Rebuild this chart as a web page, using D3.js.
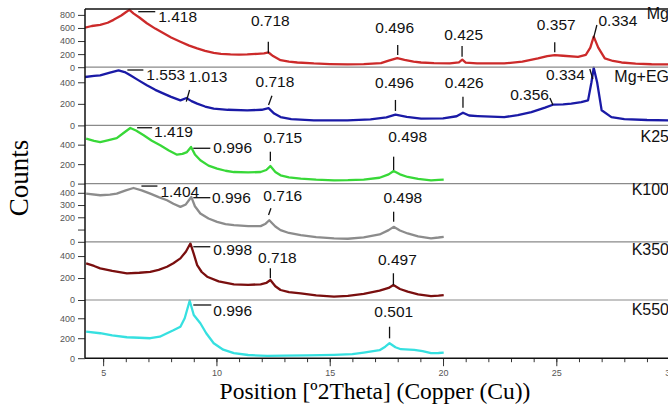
<!DOCTYPE html>
<html>
<head>
<meta charset="utf-8">
<script src="https://cdn.jsdelivr.net/npm/d3@7"></script>
<style>
  body { margin: 0; background: #fff; }
  text { font-family: Arial, "Liberation Sans", sans-serif; }
</style>
</head>
<body>
<script>
// panels top to bottom
const panelNames = ['Mg', 'Mg+EG', 'K25', 'K100', 'K350', 'K550']
const panelColors = ['#cc2a2a', '#1a1aa6', '#38d838', '#8c8c8c', '#7a0f0f', '#36e0e0']
const yMax = [890, 540, 598, 475, 530, 583]
const yTicks = [
  [0, 200, 400, 600, 800],
  [0, 200, 400],
  [0, 200, 400],
  [0, 100, 200, 300, 400],
  [0, 200, 400],
  [0, 200, 400]
]
const xTickLabels = [5, 10, 15, 20, 25, 30]

// [2theta, counts]
const mg = [[4.2,605],[4.5,630],[4.87,647],[5.2,680],[5.46,724],[5.8,790],[6.0,840],[6.16,877],[6.35,820],[6.6,760],[6.93,672],[7.3,590],[7.67,519],[8.0,455],[8.41,390],[8.8,330],[9.15,288],[9.5,250],[9.88,220],[10.2,205],[10.62,195],[11.0,192],[11.36,195],[11.8,205],[12.1,212],[12.3,225],[12.5,170],[12.83,108],[13.2,85],[13.57,72],[14.3,57],[15.0,48],[15.78,42],[16.5,48],[17.26,62],[17.6,100],[17.98,140],[18.3,112],[18.7,85],[19.03,72],[19.6,62],[20.3,58],[20.7,75],[20.85,115],[21.0,70],[21.5,58],[22.7,57],[23.5,85],[24.19,134],[24.6,170],[24.93,185],[25.3,175],[25.96,159],[26.3,190],[26.5,300],[26.65,467],[26.85,300],[27.14,134],[27.5,95],[27.88,72],[28.5,55],[29.2,45],[30.0,42]]
const mgEG = [[4.2,449],[4.6,460],[4.87,465],[5.3,490],[5.68,511],[5.95,495],[6.2,465],[6.55,420],[6.93,372],[7.3,330],[7.67,295],[8.0,265],[8.41,232],[8.68,254],[8.9,225],[9.15,202],[9.5,175],[9.88,155],[10.5,145],[11.36,140],[12.0,145],[12.3,160],[12.55,110],[12.83,77],[13.3,58],[14.3,47],[15.78,47],[16.8,56],[17.5,75],[17.9,99],[18.4,80],[19.03,62],[20.0,66],[20.6,85],[20.88,118],[21.15,92],[21.53,87],[22.7,77],[23.3,95],[23.9,124],[24.5,165],[24.85,192],[25.3,195],[25.66,202],[26.1,215],[26.4,232],[26.55,400],[26.65,535],[26.8,400],[27.0,140],[27.43,77],[28.0,58],[29.0,50],[30.0,47]]
const k25 = [[4.25,462],[4.6,440],[4.87,427],[5.2,445],[5.6,468],[5.9,520],[6.2,571],[6.45,545],[6.79,496],[7.15,440],[7.52,393],[7.9,340],[8.26,297],[8.5,305],[8.7,324],[8.88,376],[9.05,300],[9.29,239],[9.65,185],[10.03,154],[10.4,132],[10.77,119],[11.4,115],[11.95,119],[12.2,140],[12.38,180],[12.6,120],[12.83,85],[13.2,65],[13.72,51],[14.4,40],[15.19,34],[15.8,35],[16.5,41],[17.2,60],[17.6,95],[17.82,130],[18.1,95],[18.44,68],[18.9,48],[19.47,34],[19.8,38],[20.03,41]]
const k100 = [[4.25,393],[4.87,380],[5.3,385],[5.6,393],[6.0,420],[6.34,439],[6.7,420],[7.08,393],[7.45,365],[7.82,339],[8.1,310],[8.41,285],[8.65,305],[8.89,366],[9.05,290],[9.29,231],[9.65,190],[10.03,163],[10.4,145],[10.77,136],[11.4,128],[11.95,128],[12.15,145],[12.33,176],[12.6,125],[12.83,95],[13.2,72],[13.72,54],[14.4,38],[15.19,28],[15.8,25],[16.5,36],[17.2,60],[17.6,95],[17.82,122],[18.1,92],[18.44,68],[18.9,45],[19.47,28],[19.8,35],[20.03,41]]
const k350 = [[4.25,333],[4.6,310],[4.87,288],[5.4,265],[6.05,243],[6.6,248],[7.08,257],[7.45,275],[7.82,303],[8.1,335],[8.41,379],[8.65,440],[8.85,515],[9.0,420],[9.15,318],[9.35,255],[9.59,212],[10.1,170],[10.77,143],[11.4,138],[11.95,143],[12.2,155],[12.38,182],[12.6,125],[12.83,91],[13.2,72],[13.72,61],[14.4,42],[15.19,30],[15.8,38],[16.5,55],[17.2,85],[17.6,110],[17.81,136],[18.1,100],[18.44,76],[18.9,52],[19.47,36],[19.8,40],[20.03,45]]
const k550 = [[4.25,266],[4.87,250],[5.4,228],[6.05,210],[6.6,205],[7.08,200],[7.5,215],[7.82,250],[8.1,280],[8.41,316],[8.6,400],[8.82,576],[9.0,433],[9.29,350],[9.55,250],[9.88,150],[10.3,85],[10.77,50],[11.4,32],[12.24,23],[13.0,25],[14.0,28],[15.19,33],[16.0,40],[16.5,56],[17.2,80],[17.45,115],[17.64,150],[17.9,110],[18.14,90],[18.73,83],[19.1,70],[19.47,50],[19.8,52],[20.03,56]]
const series = [mg, mgEG, k25, k100, k350, k550]

// peak labels: panel, d-spacing text, 2theta and counts where the leader meets the trace
const annotations = [
  [0,'1.418',6.55,849],[0,'0.718',12.29,213],[0,'0.496',18.0,187],[0,'0.425',20.84,161],[0,'0.357',24.93,228],[0,'0.334',26.64,442],
  [1,'1.553',6.07,514],[1,'1.013',8.67,220],[1,'0.718',12.3,189],[1,'0.496',17.9,134],[1,'0.426',20.88,164],[1,'0.356',24.85,189],[1,'0.334',26.61,430],
  [2,'1.419',6.5,574],[2,'0.996',8.98,363],[2,'0.715',12.38,232],[2,'0.498',17.82,140],
  [3,'1.404',6.69,455],[3,'0.996',8.98,360],[3,'0.716',12.3,219],[3,'0.498',17.82,164],
  [4,'0.998',8.98,485],[4,'0.718',12.38,198],[4,'0.497',17.81,137],
  [5,'0.996',8.98,533],[5,'0.501',17.64,199]
]
// leader end dx,dy and text dx,dy,anchor (pixels from the anchor point)
const annLayout = [
  [17,0,20,10.3,'start'],[0,-11.6,2,-27.3,'middle'],[0,-10,-3,-21.7,'middle'],[0,-10.7,1.6,-16.7,'middle'],[0,-10,1.5,-22.3,'middle'],[3.4,-13.3,5,-12.3,'start'],
  [16,0,19,10,'start'],[3.3,-11.7,2.3,-19.4,'start'],[3.4,-9.3,6.4,-18.3,'middle'],[0,-11,-1,-23.3,'middle'],[0,-11,1.3,-20,'middle'],[-3,-7,-4,-5,'end'],[-3,-10,-8,1,'end'],
  [15,0,17,9.5,'start'],[17,0,20,5,'start'],[0,-9.3,12.5,-17.7,'middle'],[0,-13.3,14,-28.3,'middle'],
  [16,0,19,10.7,'start'],[17,0,18.7,5.6,'start'],[2.4,-6.7,14.2,-14,'middle'],[0,-10,9.2,-18.7,'middle'],
  [17,0,20,8.3,'start'],[0,-10,7,-15,'middle'],[0,-11.7,4,-20,'middle'],
  [18,0,20,11,'start'],[0,-11.6,4.2,-21.6,'middle']
]
const nameDy = [10, 14.5, 16.3, 11.4, 13.2, 15]

const W = 668, H = 404
const plotLeft = 85, plotTop = 9, panelH = 58.2

const svg = d3.select('body').append('svg')
  .attr('width', W).attr('height', H)

let x = d3.scaleLinear().domain([4.2, 30]).range([plotLeft, plotLeft + 25.8 * 22.66])

let ys = yMax.map((m, i) => d3.scaleLinear().domain([0, m])
  .range([plotTop + (i + 1) * panelH, plotTop + i * panelH]))

svg.append('defs').selectAll('clipPath').data(ys).enter()
  .append('clipPath').attr('id', (d, i) => 'clip' + i)
  .append('rect')
  .attr('x', plotLeft).attr('width', W - plotLeft)
  .attr('y', (d, i) => plotTop + i * panelH - 1).attr('height', panelH + 1)

// curves (noisy scans in the source, so drawn a little heavy)
let line = (y) => d3.line().x(d => x(d[0])).y(d => y(d[1]))
series.forEach((s, i) => {
  svg.append('path')
    .attr('clip-path', `url(#clip${i})`)
    .attr('d', line(ys[i])(s))
    .attr('fill', 'none')
    .attr('stroke', panelColors[i])
    .attr('stroke-width', 2.3)
    .attr('stroke-linejoin', 'round')
})

// panel separators
svg.append('g').selectAll('line').data(d3.range(1, 6)).enter()
  .append('line')
  .attr('x1', plotLeft).attr('x2', W)
  .attr('y1', i => plotTop + i * panelH).attr('y2', i => plotTop + i * panelH)
  .attr('stroke', '#8a8a8a').attr('stroke-width', 1.2)
svg.append('line').attr('x1', plotLeft).attr('x2', W).attr('y1', plotTop).attr('y2', plotTop)
  .attr('stroke', '#111').attr('stroke-width', 1.5)

// y axes
ys.forEach((y, i) => {
  let g = svg.append('g').attr('transform', `translate(${plotLeft},0)`)
    .call(d3.axisLeft(y).tickValues(yTicks[i]).tickSize(7).tickPadding(3)
      .tickFormat(d => (i == 3 && d == 100) ? '' : d))
  g.select('.domain').remove()
  g.selectAll('.tick line').attr('stroke', '#333')
  g.selectAll('text').attr('fill', '#555').style('font-size', '9px')
})
svg.append('line').attr('x1', plotLeft).attr('x2', plotLeft)
  .attr('y1', plotTop).attr('y2', plotTop + 6 * panelH)
  .attr('stroke', '#111').attr('stroke-width', 1.5)

// x axis
let bottom = plotTop + 6 * panelH
let xMinor = svg.append('g').attr('transform', `translate(0,${bottom})`)
  .call(d3.axisBottom(x).tickValues(d3.range(5, 31)).tickSize(4).tickFormat(''))
xMinor.select('.domain').remove()
let xg = svg.append('g').attr('transform', `translate(0,${bottom})`)
  .call(d3.axisBottom(x).tickValues(xTickLabels).tickSize(8).tickPadding(3))
xg.select('.domain').remove()
svg.selectAll('.tick line').attr('stroke', '#333')
xg.selectAll('text').attr('fill', '#555').style('font-size', '9px')
svg.append('line').attr('x1', plotLeft).attr('x2', W).attr('y1', bottom).attr('y2', bottom)
  .attr('stroke', '#111').attr('stroke-width', 1.6)

// peak annotations
annotations.forEach((a, k) => {
  let [p, label, tt, c] = a
  let [lx, ly, tx, ty, anchor] = annLayout[k]
  let px = x(tt), py = ys[p](c)
  svg.append('line')
    .attr('x1', px).attr('y1', py).attr('x2', px + lx).attr('y2', py + ly)
    .attr('stroke', '#111').attr('stroke-width', 1.3)
  svg.append('text')
    .attr('x', px + tx).attr('y', py + ty)
    .attr('text-anchor', anchor)
    .attr('fill', '#111')
    .style('font-size', '15.5px')
    .text(label)
})

// panel names
svg.append('g').selectAll('text').data(panelNames).enter()
  .append('text')
  .attr('x', 669).attr('y', (d, i) => plotTop + i * panelH + nameDy[i])
  .attr('text-anchor', 'end')
  .attr('fill', '#111')
  .style('font-size', '16px')
  .text(d => d)

// axis titles
svg.append('text')
  .attr('x', 375).attr('y', 399)
  .attr('text-anchor', 'middle')
  .style('font-family', '"Liberation Serif", "Times New Roman", serif')
  .style('font-size', '23.5px')
  .text('Position [º2Theta] (Copper (Cu))')

svg.append('text')
  .attr('transform', 'translate(28,178) rotate(-90)')
  .attr('text-anchor', 'middle')
  .style('font-family', '"Liberation Serif", "Times New Roman", serif')
  .style('font-size', '27px')
  .text('Counts')
</script>
</body>
</html>
